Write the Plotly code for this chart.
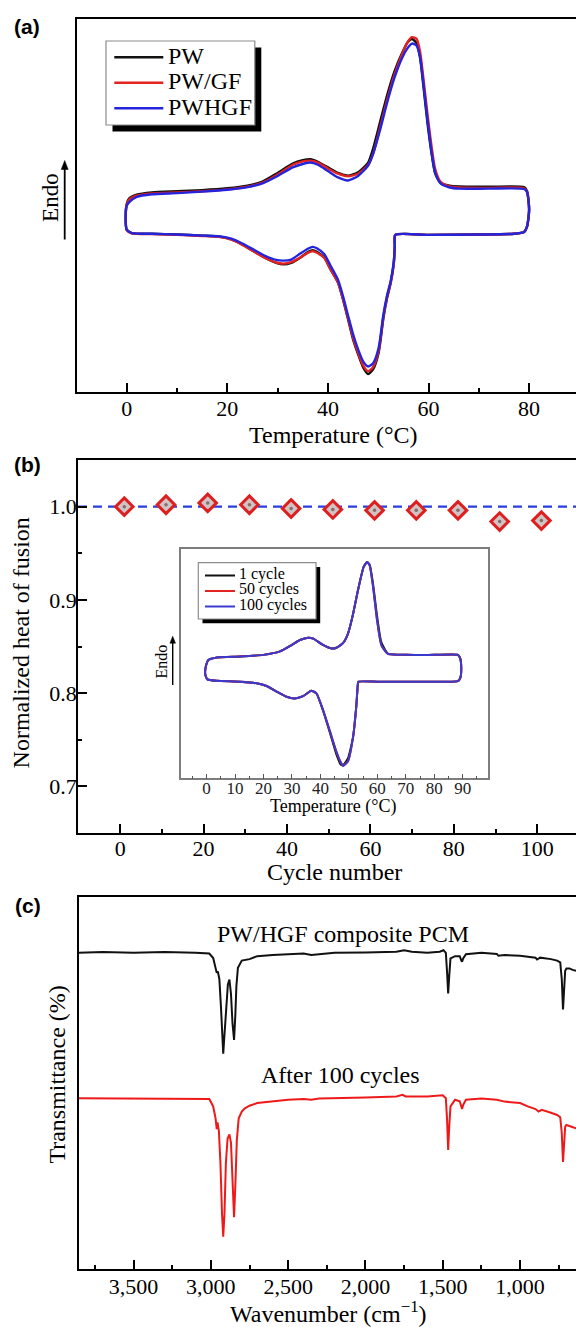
import plotly.graph_objects as go

W, H = 576, 1327

# ---------------- (a) DSC loops: heating branch then cooling branch ----------------
dsc_temp = [0.0, 0.5, 2, 5, 10, 15, 20, 24, 27, 30, 33, 35, 36.5, 38, 40, 42, 44, 46, 48, 49,
            50.3, 51.7, 53.2, 54.7, 55.8, 56.7, 57.6, 58.3, 59.0, 59.8, 60.6, 61.3, 62.4, 64.2,
            66, 72, 79, 79.6,
            80.0, 79.6, 79, 77, 70, 60, 53.4, 53.3, 53.1, 52.5, 51.7, 51, 50.1, 49, 48, 47, 46,
            45, 44, 43, 42, 40.5, 39.3, 37.8, 37.0, 36, 34.5, 32.7, 31.2, 29.7, 27.5, 25.3, 23,
            20.8, 18.6, 15, 10, 5, 1, 0, -0.2, 0.0]

dsc_pw = [50.5, 52.0, 53.0, 53.6, 53.9, 54.2, 54.7, 55.4, 56.5, 58.8, 61.3, 62.2, 62.5, 61.8,
          60.3, 58.8, 58.1, 59.0, 61.6, 65.4, 72.1, 79.3, 85.9, 90.8, 93.7, 94.7, 93.7, 89.9,
          81.9, 72.1, 64.1, 58.8, 56.1, 55.4, 55.2, 55.1, 55.0, 53.9,
          49.0, 44.5, 43.0, 42.5, 42.3, 42.2, 42.2, 39.2, 34.7, 29.4, 24.9, 19.6, 10.7, 6.2,
          4.9, 6.7, 10.2, 14.2, 19.6, 24.9, 29.4, 33.0, 36.1, 37.7, 38.1, 37.6, 36.1, 34.7,
          34.3, 34.7, 36.1, 37.8, 39.6, 41.0, 41.7, 42.0, 42.3, 42.5, 42.7, 43.6, 47.2, 50.5]

dsc_pwgf = [50.2, 51.7, 52.7, 53.3, 53.6, 53.9, 54.4, 55.1, 56.2, 58.4, 61.0, 61.9, 62.1, 61.6,
            60.0, 58.6, 57.9, 58.6, 61.0, 64.0, 70.6, 78.0, 85.0, 90.5, 93.8, 95.2, 94.8, 91.5,
            84.0, 74.5, 66.0, 60.0, 56.4, 55.2, 54.9, 54.8, 54.7, 53.7,
            49.0, 44.5, 43.0, 42.5, 42.3, 42.2, 42.2, 39.2, 34.7, 29.6, 25.2, 20.0, 11.2, 6.8,
            5.6, 7.2, 10.6, 14.6, 19.9, 25.0, 29.4, 33.0, 36.0, 37.4, 37.8, 37.4, 36.1, 34.9,
            34.5, 34.8, 36.0, 37.7, 39.5, 40.9, 41.6, 41.9, 42.2, 42.4, 42.6, 43.5, 47.0, 50.2]

dsc_pwhgf = [50.0, 51.0, 52.4, 53.1, 53.4, 53.8, 54.3, 55.0, 56.0, 58.0, 60.3, 61.2, 61.6, 61.0,
             59.3, 57.6, 56.8, 58.0, 60.8, 64.0, 70.0, 77.3, 84.2, 89.5, 92.2, 93.5, 93.0, 90.0,
             82.6, 73.0, 64.5, 59.0, 56.0, 54.9, 54.6, 54.6, 54.5, 53.6,
             49.0, 44.5, 43.0, 42.5, 42.3, 42.2, 42.2, 39.4, 35.0, 30.0, 25.6, 20.6, 12.0, 7.8,
             6.9, 8.3, 11.5, 15.6, 20.6, 25.8, 30.2, 34.0, 37.0, 38.6, 39.0, 38.5, 37.2, 35.6,
             35.3, 35.5, 36.6, 38.2, 39.9, 41.2, 41.8, 42.0, 42.3, 42.5, 42.7, 43.6, 47.2, 50.0]

dsc_names = ["PW", "PW/GF", "PWHGF"]
a_xticks = [0, 20, 40, 60, 80]

# ---------------- (b) cycling stability ----------------
cycle_no = [1, 11, 21, 31, 41, 51, 61, 71, 81, 91, 101]
norm_heat = [1.000, 1.002, 1.004, 1.002, 0.998, 0.997, 0.996, 0.996, 0.996, 0.984, 0.985]
reference_level = 1.0
b_xticks = [0, 20, 40, 60, 80, 100]
b_yticks = [0.7, 0.8, 0.9, 1.0]

# inset: DSC loops after repeated cycling
inset_temp = [0.6, 3.6, 11.8, 20, 25.8, 29.9, 32.8, 35.7, 37.5, 40.4, 43.9, 45.6, 48, 49.7, 51.5,
              53.2, 55.2, 56.4, 57.3, 58.5, 59.9, 61.4, 63.7, 70.2, 80, 88.3,
              89.1, 89.5, 89.2, 88.3,
              80, 70, 60, 53.4, 53.2, 52.6, 51.5, 49.7, 48, 47.1, 45.6, 43.3, 40.9, 38.6, 36.8,
              33.9, 31, 28.1, 24.6, 21.1, 17.6, 11.8, 3.6, 0.3,
              -0.4, -0.5, 0.0, 0.6]

inset_1 = [51.7, 52.8, 53.2, 53.9, 55.4, 58.2, 60.4, 61.4, 61.0, 58.6, 56.7, 57.0, 59.1, 63.2, 71.9,
           82.1, 92.3, 94.4, 93.4, 85.0, 71.0, 59.5, 54.5, 53.9, 53.9, 53.9,
           52.5, 48.0, 44.0, 42.4,
           42.2, 42.2, 42.2, 42.2, 41.5, 31.3, 18.2, 8.8, 5.8, 6.0, 10.5, 20.0, 29.6, 37.1, 38.2,
           35.9, 34.9, 35.6, 37.9, 40.3, 41.5, 42.2, 42.6, 43.2,
           45.0, 47.0, 50.0, 51.7]

inset_50 = [51.6, 52.7, 53.2, 53.9, 55.4, 58.2, 60.4, 61.4, 61.0, 58.6, 56.7, 57.0, 59.1, 63.2, 71.9,
            82.1, 92.3, 94.4, 93.0, 83.6, 69.1, 58.2, 54.3, 53.9, 53.9, 53.9,
            52.5, 48.0, 44.0, 42.4,
            42.2, 42.2, 42.2, 42.2, 41.5, 31.3, 18.2, 7.6, 5.5, 7.0, 11.6, 20.6, 29.9, 37.1, 38.2,
            35.9, 34.9, 35.6, 37.9, 40.3, 41.5, 42.2, 42.6, 43.2,
            44.8, 47.2, 50.2, 51.6]

inset_100 = [51.7, 52.8, 53.2, 53.9, 55.4, 58.2, 60.4, 61.4, 61.0, 58.6, 56.7, 57.0, 59.1, 63.2, 71.9,
             82.1, 92.3, 94.4, 93.0, 83.6, 69.1, 58.2, 54.3, 53.9, 53.9, 53.9,
             52.5, 48.0, 44.0, 42.4,
             42.2, 42.2, 42.2, 42.2, 41.5, 31.3, 18.2, 7.4, 5.4, 7.2, 11.8, 20.8, 30.0, 37.1, 38.2,
             35.9, 34.9, 35.6, 37.9, 40.3, 41.5, 42.2, 42.6, 43.2,
             45.0, 47.0, 50.0, 51.7]

inset_names = ["1 cycle", "50 cycles", "100 cycles"]
inset_xticks = [0, 10, 20, 30, 40, 50, 60, 70, 80, 90]

# ---------------- (c) FT-IR spectra (transmittance, arb. offset units) ----------------
ir_wn_fresh = [3855, 3700, 3500, 3300, 3100, 3010, 2985, 2970, 2962, 2955, 2945, 2935, 2925, 2920,
               2914, 2905, 2890, 2880, 2870, 2860, 2850, 2842, 2835, 2825, 2800, 2750, 2700, 2600,
               2500, 2400, 2350, 2300, 2200, 2000, 1800, 1750, 1700, 1600, 1520, 1495, 1480, 1472,
               1465, 1458, 1450, 1420, 1390, 1380, 1375, 1368, 1350, 1250, 1150, 1140, 1100, 1000,
               900, 890, 870, 800, 760, 740, 730, 722, 715, 708, 700, 680, 660, 638]
ir_t_fresh = [85.0, 85.2, 85.0, 85.2, 85.0, 84.8, 83.6, 81.1, 79.6, 80.0, 77.9, 70.7, 59.9, 57.9,
              61.7, 68.0, 76.5, 77.8, 74.0, 66.0, 61.6, 68.0, 76.0, 81.0, 82.9, 83.3, 84.1, 84.4,
              84.6, 84.8, 84.4, 84.6, 85.0, 85.1, 85.3, 85.7, 85.3, 85.0, 85.3, 85.7, 85.0, 79.7,
              74.1, 78.8, 83.5, 84.1, 84.1, 82.9, 82.6, 83.5, 84.6, 85.0, 84.7, 84.2, 84.4, 84.2,
              83.7, 83.2, 83.7, 83.3, 82.9, 82.4, 77.9, 69.8, 76.0, 80.2, 80.8, 80.8, 80.4, 80.2]

ir_wn_cycled = [3855, 3500, 3200, 3050, 3010, 2985, 2970, 2962, 2957, 2948, 2938, 2928, 2920, 2912,
                2903, 2892, 2880, 2870, 2860, 2850, 2842, 2832, 2820, 2800, 2780, 2750, 2700, 2600,
                2500, 2400, 2350, 2300, 2100, 2000, 1800, 1760, 1740, 1600, 1500, 1480, 1472, 1465,
                1458, 1450, 1420, 1390, 1380, 1375, 1368, 1350, 1250, 1150, 1100, 1000, 950, 900,
                880, 860, 800, 760, 740, 730, 722, 715, 708, 700, 680, 660, 638]
ir_t_cycled = [45.9, 45.9, 45.7, 45.9, 45.7, 43.7, 40.6, 37.6, 39.4, 37.0, 28.4, 14.9, 8.7, 14.9,
               28.4, 35.0, 36.2, 34.0, 23.9, 13.9, 22.1, 34.7, 40.5, 42.3, 43.2, 43.9, 44.6, 45.1,
               45.5, 45.7, 45.5, 45.8, 45.9, 46.1, 46.4, 46.8, 46.4, 46.4, 46.7, 45.9, 40.1, 32.0,
               38.3, 43.7, 45.5, 45.1, 43.7, 43.0, 44.1, 45.5, 45.8, 45.5, 45.0, 44.6, 43.7, 43.0,
               42.3, 42.8, 42.0, 41.4, 40.8, 36.5, 28.8, 34.7, 38.3, 38.7, 38.4, 38.1, 37.8]

ir_xticks = [3500, 3000, 2500, 2000, 1500, 1000]

# ---------------- styling ----------------
SERIF = "Liberation Serif"
SANS = "Liberation Sans"
C_BLACK, C_RED, C_BLUE = "#111111", "#e32222", "#2424dc"
INSET_BLUE = "#3a3ad0"


def px(x):
    return x / W


def py(y):
    return 1 - y / H


fig = go.Figure()

# (a)
for vals, name, col in zip([dsc_pw, dsc_pwgf, dsc_pwhgf], dsc_names, [C_BLACK, C_RED, C_BLUE]):
    fig.add_trace(go.Scatter(x=dsc_temp, y=vals, name=name, mode="lines",
                             line=dict(color=col, width=2.4, shape="spline", smoothing=0.6),
                             xaxis="x", yaxis="y", showlegend=False))

# (b)
fig.add_trace(go.Scatter(x=cycle_no, y=norm_heat, mode="markers", xaxis="x2", yaxis="y2",
                         marker=dict(symbol="diamond", size=13.5, color="#cfc3c3",
                                     line=dict(color="#de1f1f", width=3)),
                         showlegend=False))
fig.add_trace(go.Scatter(x=cycle_no, y=norm_heat, mode="markers", xaxis="x2", yaxis="y2",
                         marker=dict(symbol="circle", size=3.5, color="#8c6a6a"),
                         showlegend=False))

# inset
for vals, name, col in zip([inset_1, inset_50, inset_100], inset_names, [C_BLACK, C_RED, INSET_BLUE]):
    fig.add_trace(go.Scatter(x=inset_temp, y=vals, name=name, mode="lines",
                             line=dict(color=col, width=2.0, shape="spline", smoothing=0.5),
                             xaxis="x4", yaxis="y4", showlegend=False))

# (c)
fig.add_trace(go.Scatter(x=ir_wn_fresh, y=ir_t_fresh, mode="lines", xaxis="x3", yaxis="y3",
                         line=dict(color=C_BLACK, width=2.0), showlegend=False))
fig.add_trace(go.Scatter(x=ir_wn_cycled, y=ir_t_cycled, mode="lines", xaxis="x3", yaxis="y3",
                         line=dict(color="#ee1a1a", width=2.0), showlegend=False))


def main_axis(**kw):
    d = dict(showline=True, linecolor="black", linewidth=1.8, showgrid=False,
             zeroline=False, ticks="inside", ticklen=9, tickwidth=1.7, tickcolor="black",
             tickfont=dict(family=SERIF, size=22, color="black"))
    d.update(kw)
    return d


def minor(step, start=0):
    return dict(dtick=step, tick0=start, ticks="inside", ticklen=4.5, tickwidth=1.7,
                tickcolor="black")


noticks_y = dict(showline=True, linecolor="black", linewidth=1.8, showgrid=False,
                 zeroline=False, ticks="", showticklabels=False)

fig.update_layout(
    width=W, height=H, margin=dict(l=0, r=0, t=0, b=0),
    paper_bgcolor="white", plot_bgcolor="white", showlegend=False,
    font=dict(family=SERIF, size=22, color="black"),
    xaxis=main_axis(domain=[px(76.7), 1], range=[-9.94, 89.32], anchor="y", mirror=True,
                    tickmode="array", tickvals=a_xticks, minor=minor(10),
                    ticklabelstandoff=-5),
    yaxis=dict(domain=[py(392.3), py(19.3)], range=[0, 100], anchor="x", **noticks_y),
    xaxis2=main_axis(domain=[px(78), 1], range=[-10.1, 109.3], anchor="y2", mirror=True,
                     tickmode="array", tickvals=b_xticks, minor=minor(10),
                     ticklabelstandoff=-5),
    yaxis2=main_axis(domain=[py(833), py(460)], range=[0.65, 1.05], anchor="x2",
                     tickmode="array", tickvals=b_yticks, tickformat=".1f",
                     minor=minor(0.05, 0.65), ticklabelstandoff=-5),
    xaxis3=main_axis(domain=[px(78.7), 1], range=[3855, 638], anchor="y3", mirror=True,
                     tickmode="array", tickvals=ir_xticks, tickformat=",d", minor=minor(250),
                     ticklabelstandoff=-3),
    yaxis3=dict(domain=[py(1269), py(897)], range=[0, 100], anchor="x3", **noticks_y),
    xaxis4=dict(domain=[px(180.7), px(488)], range=[-9.1, 98.9], anchor="y4", mirror=True,
                showline=True, linecolor="#7d7d7d", linewidth=1.5, showgrid=False,
                zeroline=False, ticks="inside", ticklen=5, tickwidth=1.3, tickcolor="#555555",
                tickmode="array", tickvals=inset_xticks, ticklabelstandoff=-6,
                minor=dict(dtick=5, tick0=0, ticks="inside", ticklen=2.5, tickwidth=1.2,
                           tickcolor="#555555"),
                tickfont=dict(family=SERIF, size=17, color="#222222")),
    yaxis4=dict(domain=[py(778.3), py(549.3)], range=[0, 100], anchor="x4", mirror=True,
                showline=True, linecolor="#7d7d7d", linewidth=1.5, showgrid=False,
                zeroline=False, ticks="", showticklabels=False),
)

shapes = []
annotations = []

# dashed reference level in (b)
shapes.append(dict(type="line", xref="x2 domain", yref="y2", x0=0, x1=1,
                   y0=reference_level, y1=reference_level, layer="below",
                   line=dict(color="#2a3ee0", width=2.4, dash="9px,6px")))


def legend_box(x0, y0, x1, y1, off, entries, line_x0, line_x1, text_x, ys, size, lw):
    shapes.append(dict(type="rect", xref="paper", yref="paper",
                       x0=px(x0 + off), x1=px(x1 + off), y0=py(y1 + off), y1=py(y0 + off),
                       fillcolor="black", line=dict(width=0)))
    shapes.append(dict(type="rect", xref="paper", yref="paper",
                       x0=px(x0), x1=px(x1), y0=py(y1), y1=py(y0),
                       fillcolor="white", line=dict(color="#8c8c8c", width=1.2)))
    for (label, col), yy in zip(entries, ys):
        shapes.append(dict(type="line", xref="paper", yref="paper",
                           x0=px(line_x0), x1=px(line_x1), y0=py(yy), y1=py(yy),
                           line=dict(color=col, width=lw)))
        annotations.append(dict(text=label, xref="paper", yref="paper", x=px(text_x),
                                y=py(yy - 1.5), xanchor="left", yanchor="middle",
                                showarrow=False, font=dict(family=SERIF, size=size, color="black")))


legend_box(106, 41, 254.8, 125, 6.5, list(zip(dsc_names, [C_BLACK, C_RED, C_BLUE])),
           114.3, 163.3, 165.7, [57.3, 82.7, 108.3], 24, 2.6)
legend_box(198.3, 562.7, 316, 619, 4.2, list(zip(inset_names, [C_BLACK, C_RED, INSET_BLUE])),
           205, 235, 236.7, [575.5, 591, 606.5], 16, 2.0)


def text(s, x, y, size, angle=0, family=SERIF, color="black"):
    annotations.append(dict(text=s, xref="paper", yref="paper", x=px(x), y=py(y),
                            xanchor="center", yanchor="middle", showarrow=False,
                            textangle=angle, font=dict(family=family, size=size, color=color)))


def up_arrow(x, y_head, y_tail, head_len, half_w, width):
    # shaft
    shapes.append(dict(type="line", xref="paper", yref="paper",
                       x0=px(x), x1=px(x), y0=py(y_tail), y1=py(y_head + head_len - 1),
                       line=dict(color="black", width=width)))
    # filled head
    path = "M {:.5f},{:.5f} L {:.5f},{:.5f} L {:.5f},{:.5f} Z".format(
        px(x), py(y_head), px(x - half_w), py(y_head + head_len),
        px(x + half_w), py(y_head + head_len))
    shapes.append(dict(type="path", xref="paper", yref="paper", path=path,
                       fillcolor="black", line=dict(color="black", width=0.5)))


# panel tags
text("<b>(a)</b>", 27, 27, 21, family=SANS)
text("<b>(b)</b>", 27.5, 464, 21, family=SANS)
text("<b>(c)</b>", 27.5, 905, 21, family=SANS)

# axis titles and labels
text("Temperature (°C)", 333.6, 435, 24)
text("Endo", 49.7, 197.2, 23, angle=-90)
up_arrow(64.7, 160.5, 239.5, 9, 3.5, 1.8)

text("Cycle number", 334.6, 872, 24)
text("Normalized heat of fusion", 21.1, 643.3, 24, angle=-90)

text("Temperature (°C)", 333.3, 806.7, 18)
text("Endo", 161.7, 661.7, 16, angle=-90)
up_arrow(172.7, 636.2, 685, 7, 2.8, 1.4)

text("Wavenumber (cm<sup>−1</sup>)", 328.7, 1312, 24)
text("Transmittance (%)", 57, 1074.6, 24, angle=-90)
text("PW/HGF composite PCM", 343, 934, 24)
text("After 100 cycles", 340, 1075, 24)

fig.update_layout(shapes=shapes, annotations=annotations)

fig.write_html("out.html")
